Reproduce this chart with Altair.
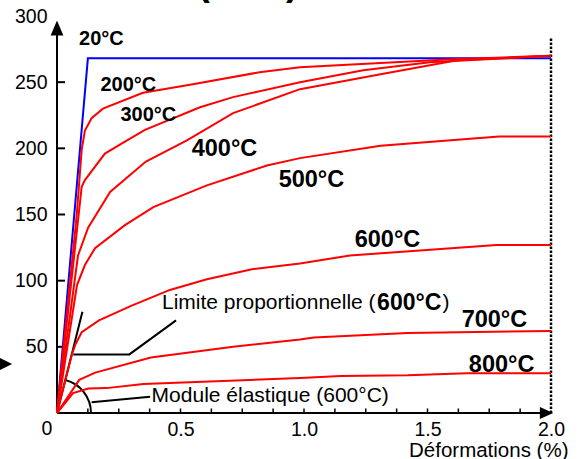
import altair as alt
import pandas as pd

# ---------------- data ----------------
series = ["20°C", "200°C", "300°C", "400°C", "500°C", "600°C", "700°C", "800°C"]

x20 = [0, 0.125, 2.0]
y20 = [0, 268, 268]
x200 = [0, 0.08, 0.1, 0.113, 0.14, 0.186, 0.348, 0.55, 0.82, 0.984, 1.31, 1.6, 2.0]
y200 = [0, 150, 199, 213.5, 222.8, 230, 242, 248.5, 257.5, 261.3, 264.4, 267.4, 270]
x300 = [0, 0.1, 0.113, 0.194, 0.275, 0.356, 0.579, 0.713, 0.984, 1.24, 1.51, 2.0]
y300 = [0, 171, 176, 196, 205, 214, 231, 238.7, 250, 259, 265, 270]
x400 = [0, 0.085, 0.126, 0.215, 0.36, 0.526, 0.713, 0.984, 1.31, 1.62, 2.0]
y400 = [0, 119, 140, 167, 190, 206, 226.6, 244.7, 256, 266.6, 270]
x500 = [0, 0.081, 0.113, 0.154, 0.275, 0.39, 0.607, 0.85, 0.984, 1.31, 1.79, 2.0]
y500 = [0, 96.7, 111.8, 124.6, 142, 155.6, 172, 187, 192.6, 202, 209, 209]
x600 = [0, 0.06, 0.075, 0.1, 0.17, 0.3, 0.457, 0.607, 0.794, 0.984, 1.186, 1.78, 2.0]
y600 = [0, 44, 52, 61, 70, 81, 93, 101, 108.8, 113, 119, 127, 127]
x700 = [0, 0.09, 0.155, 0.38, 0.713, 0.984, 1.04, 1.42, 2.0]
y700 = [0, 25, 30.5, 42, 50, 55.5, 57, 60.4, 62]
x800 = [0, 0.065, 0.127, 0.2, 0.35, 0.984, 1.15, 1.42, 1.66, 2.0]
y800 = [0, 15, 18.5, 18.8, 22, 26.4, 28, 28.5, 30, 30]

curve_x = [x20, x200, x300, x400, x500, x600, x700, x800]
curve_y = [y20, y200, y300, y400, y500, y600, y700, y800]

x_tick_values = [0, 0.5, 1.0, 1.5, 2.0]
x_minor_ticks = [0.125, 0.25, 0.375, 0.5, 0.625, 0.75, 0.875, 1.0,
                 1.125, 1.25, 1.375, 1.5, 1.625, 1.75, 1.875]
y_tick_values = [50, 100, 150, 200, 250, 300]
y_minor_ticks = [50, 100, 150, 200, 250]

# curve labels
label_text = ["20°C", "200°C", "300°C", "400°C", "500°C", "600°C", "700°C", "800°C"]
label_x = [0.18, 0.289, 0.37, 0.678, 1.03, 1.338, 1.771, 1.8]
label_y = [282.5, 247.7, 225, 199.8, 176, 131, 70.6, 36.6]
label_size = [20, 20, 20, 23.5, 23.5, 23.5, 23.5, 23.5]

# annotation texts
note_text = ["Limite proportionnelle (", ")", "Module élastique (600°C)"]
note_x = [0.425, 1.561, 0.383]
note_y = [83.5, 83.5, 12.5]
note_bold_text = ["600°C"]
note_bold_x = [1.296]
note_bold_y = [83.5]

# annotation lines (tangent 600°C, leaders)
seg_id = ["tan", "tan", "lim", "lim", "lim", "mod", "mod"]
seg_x = [0, 0.103, 0.066, 0.293, 0.482, 0.14, 0.377]
seg_y = [0, 76.5, 44.3, 44.3, 70, 8.1, 12.3]
seg_order = [0, 1, 0, 1, 2, 0, 1]

# ---------------- tables ----------------
rows = []
for name, xs_, ys_ in zip(series, curve_x, curve_y):
    for i, (a, b) in enumerate(zip(xs_, ys_)):
        rows.append({"T": name, "x": a, "y": b, "o": i})
curves = pd.DataFrame(rows)
labels = pd.DataFrame({"text": label_text, "x": label_x, "y": label_y, "size": label_size})
notes = pd.DataFrame({"text": note_text, "x": note_x, "y": note_y})
notes_bold = pd.DataFrame({"text": note_bold_text, "x": note_bold_x, "y": note_bold_y})
segs = pd.DataFrame({"seg": seg_id, "x": seg_x, "y": seg_y, "o": seg_order})
xticks = pd.DataFrame({"x": x_minor_ticks})
yticks = pd.DataFrame({"y": y_minor_ticks})
origin = pd.DataFrame({"x": [0], "y": [0], "text": ["0"]})
axes_lines = pd.DataFrame({"x": [0, 0], "y": [0, 0], "x2": [0, 1.98], "y2": [290, 0]})
end_line = pd.DataFrame({"x": [2.0], "y": [0], "y2": [284]})
arrows = pd.DataFrame({
    "x": [0, 1.982, -0.2065],
    "y": [291, 0, 37],
    "shape": ["M0,-1L-0.85,1L0.85,1Z", "M1,0L-1,-0.9L-1,0.9Z", "M1,0L-1,-1L-1,1Z"],
    "size": [225, 180, 150],
})
top_title = pd.DataFrame({"x": [0.773], "y": [315.7], "text": ["(MPa)"]})

FONT = "Liberation Sans"
xs = alt.Scale(domain=[0, 2], nice=False, zero=False)
ys = alt.Scale(domain=[0, 300], nice=False, zero=False)

xaxis = alt.Axis(values=x_tick_values,
                 labelExpr="datum.value == 0 ? '' : format(datum.value, '.1f')",
                 domain=False, ticks=False, grid=False, labelPadding=7,
                 labelFontSize=19.5, labelFont=FONT, labelColor="black",
                 labelFlush=False, labelOverlap=False,
                 title="Déformations (%)", titleFont=FONT, titleFontSize=20.5,
                 titleFontWeight="normal", titleColor="black", titleAlign="right",
                 titleX=511, titleY=43, titleBaseline="alphabetic", titleAnchor="end")
yaxis = alt.Axis(values=y_tick_values, domain=False, ticks=False, grid=False,
                 labelPadding=10, labelFontSize=19.5, labelFont=FONT,
                 labelColor="black", labelOverlap=False, labelFlush=False, title="")

X = alt.X("x:Q", scale=xs, axis=xaxis)
Y = alt.Y("y:Q", scale=ys, axis=yaxis)

curve_layer = alt.Chart(curves).mark_line(strokeWidth=2).encode(
    x=X, y=Y,
    color=alt.Color("T:N", scale=alt.Scale(domain=series,
                    range=["#0000FF"] + ["#FF0000"] * 7), legend=None),
    order="o:Q",
    detail="T:N",
)

seg_layer = alt.Chart(segs).mark_line(color="black", strokeWidth=2).encode(
    x=X, y=Y, detail="seg:N", order="o:Q")

arc_layer = alt.Chart(origin).mark_arc(
    radius=34, radius2=34, theta=0.246, theta2=1.5708,
    stroke="black", strokeWidth=2, fillOpacity=0).encode(x=X, y=Y)

axis_layer = alt.Chart(axes_lines).mark_rule(color="black", strokeWidth=2).encode(
    x=X, y=Y, x2="x2:Q", y2="y2:Q")

end_layer = alt.Chart(end_line).mark_rule(color="black", strokeWidth=2.5,
                                          strokeDash=[2.5, 1.5]).encode(
    x=X, y=Y, y2="y2:Q")

xtick_layer = alt.Chart(xticks).mark_rule(color="black", strokeWidth=1.5).encode(
    x=X, y=alt.value(397), y2=alt.value(392.5))

ytick_layer = alt.Chart(yticks).mark_rule(color="black", strokeWidth=2).encode(
    y=Y, x=alt.value(-1), x2=alt.value(8))

arrow_layer = alt.Chart(arrows).mark_point(filled=True, color="black", opacity=1,
                                           strokeWidth=0).encode(
    x=X, y=Y, shape=alt.Shape("shape:N", scale=None), size=alt.Size("size:Q", scale=None))

label_layer = alt.Chart(labels).mark_text(fontWeight="bold", font=FONT, color="black",
                                          align="center", baseline="middle").encode(
    x=X, y=Y, text="text:N", size=alt.Size("size:Q", scale=None))

note_layer = alt.Chart(notes).mark_text(font=FONT, fontSize=21, color="black",
                                        align="left", baseline="middle").encode(
    x=X, y=Y, text="text:N")

note_bold_layer = alt.Chart(notes_bold).mark_text(font=FONT, fontSize=23, fontWeight="bold",
                                                  color="black", align="left",
                                                  baseline="middle").encode(
    x=X, y=Y, text="text:N")

zero_layer = alt.Chart(origin).mark_text(font=FONT, fontSize=19.5, color="black",
                                         align="center", baseline="top", dx=-10, dy=7).encode(
    x=X, y=Y, text="text:N")

top_layer = alt.Chart(top_title).mark_text(font=FONT, fontSize=37, fontWeight="bold",
                                           color="black", align="center",
                                           baseline="alphabetic").encode(
    x=X, y=Y, text="text:N")

chart = alt.layer(
    axis_layer, end_layer, xtick_layer, ytick_layer, seg_layer, arc_layer,
    curve_layer, arrow_layer, label_layer, note_layer, note_bold_layer,
    zero_layer, top_layer
).properties(
    width=494, height=397,
    autosize=alt.AutoSizeParams(type="none"),
    padding={"left": 57, "top": 16, "right": 27, "bottom": 46},
    background="white",
).configure_view(stroke=None)

chart.save("out.html", embed_options={"renderer": "svg", "actions": False})
